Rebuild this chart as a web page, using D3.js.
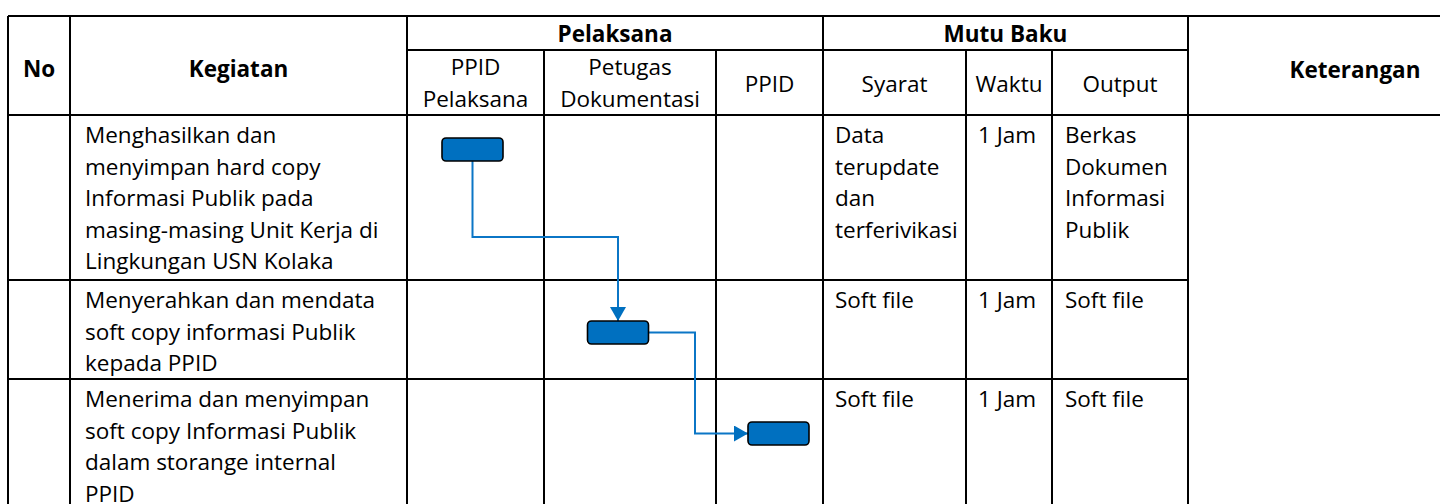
<!DOCTYPE html>
<html>
<head>
<meta charset="utf-8">
<script src="https://cdn.jsdelivr.net/npm/d3@7"></script>
<style>
  html, body { margin: 0; padding: 0; background: #fff; }
  svg { display: block; }
  text { font-family: "Open Sans", "Noto Sans", Lato, sans-serif; fill: #000; }
</style>
</head>
<body>
<svg id="chart" width="1440" height="504"></svg>
<script>
// ---------------- DATA ----------------
const groupHeaders = ["Pelaksana", "Mutu Baku"];
const mainHeaders = ["No", "Kegiatan", "Keterangan"];
const laneHeaders = [["PPID", "Pelaksana"], ["Petugas", "Dokumentasi"], ["PPID"]];
const standardHeaders = ["Syarat", "Waktu", "Output"];

const noValues = ["", "", ""];
const kegiatan = [
  ["Menghasilkan dan", "menyimpan hard copy", "Informasi Publik pada", "masing-masing Unit Kerja di", "Lingkungan USN Kolaka"],
  ["Menyerahkan dan mendata", "soft copy informasi Publik", "kepada PPID"],
  ["Menerima dan menyimpan", "soft copy Informasi Publik", "dalam storange internal", "PPID"]
];
const syarat = [["Data", "terupdate", "dan", "terferivikasi"], ["Soft file"], ["Soft file"]];
const waktu = [["1 Jam"], ["1 Jam"], ["1 Jam"]];
const output = [["Berkas", "Dokumen", "Informasi", "Publik"], ["Soft file"], ["Soft file"]];
// lane (executor) index for each activity step
const stepLane = [0, 1, 2];

// ---------------- LAYOUT ----------------
const W = 1440, H = 504;
const colEdges = [8, 70, 407, 544, 716, 823, 966, 1052, 1188, 1522];
const yTop = 16, yGroup = 50, yHead = 115;
const rowEdges = [115, 280, 379, 504];
const lineH = 31.6;
const firstBase = 28;
const boxW = 61, boxH = 23;
const boxOffset = [{dx: -3, top: 23}, {dx: -12, top: 41}, {dx: 9, top: 43}];
const elbow1Y = 237, elbow2X = 695;
const blue = "#0070C0", lineBlue = "#0B76C6";

const svg = d3.select("#chart");

// scales
const rowY = d3.scaleOrdinal().domain(d3.range(3)).range(rowEdges.slice(0, 3));
const laneX = d3.scaleOrdinal().domain(d3.range(3)).range([colEdges[2], colEdges[3], colEdges[4]]);
const laneW = i => colEdges[3 + i] - colEdges[2 + i];

// font size fitting (reference widest line spans ~299px)
const probe = svg.append("text").attr("font-size", 20).text("masing-masing Unit Kerja di");
const pw = probe.node().getComputedTextLength();
probe.remove();
const fs = Math.max(19, Math.min(22.5, 20 * 299 / pw));

// ---------------- GRID ----------------
const g = svg.append("g").attr("stroke", "#000").attr("stroke-width", 2).attr("shape-rendering", "crispEdges");
const hLines = [
  [yTop, colEdges[0], W], [yGroup, colEdges[2], colEdges[8]], [yHead, colEdges[0], W],
  [rowEdges[1], colEdges[0], colEdges[8]], [rowEdges[2], colEdges[0], colEdges[8]]
];
g.selectAll(".h").data(hLines).join("line")
  .attr("x1", d => d[1]).attr("x2", d => d[2]).attr("y1", d => d[0]).attr("y2", d => d[0]);
const vLines = [
  [colEdges[0], yTop], [colEdges[1], yTop], [colEdges[2], yTop], [colEdges[5], yTop], [colEdges[8], yTop],
  [colEdges[3], yGroup], [colEdges[4], yGroup], [colEdges[6], yGroup], [colEdges[7], yGroup]
];
g.selectAll(".v").data(vLines).join("line")
  .attr("x1", d => d[0]).attr("x2", d => d[0]).attr("y1", d => d[1]).attr("y2", H);

// ---------------- HEADERS ----------------
const mid = (a, b) => (a + b) / 2;
const hdr = svg.append("g").attr("font-size", fs).attr("text-anchor", "middle");
hdr.append("text").attr("font-weight", "bold").attr("x", mid(colEdges[0], colEdges[1])).attr("y", 77).text(mainHeaders[0]);
hdr.append("text").attr("font-weight", "bold").attr("x", mid(colEdges[1], colEdges[2])).attr("y", 77).text(mainHeaders[1]);
hdr.append("text").attr("font-weight", "bold").attr("x", mid(colEdges[8], colEdges[9])).attr("y", 78).text(mainHeaders[2]);
hdr.append("text").attr("font-weight", "bold").attr("x", mid(colEdges[2], colEdges[5])).attr("y", 42).text(groupHeaders[0]);
hdr.append("text").attr("font-weight", "bold").attr("x", mid(colEdges[5], colEdges[8])).attr("y", 42).text(groupHeaders[1]);
laneHeaders.forEach((lines, i) => {
  const cx = mid(colEdges[2 + i], colEdges[3 + i]);
  const y0 = lines.length === 1 ? 92 : 75;
  lines.forEach((t, k) => hdr.append("text").attr("x", cx).attr("y", y0 + k * lineH).text(t));
});
standardHeaders.forEach((t, i) => {
  hdr.append("text").attr("x", mid(colEdges[5 + i], colEdges[6 + i])).attr("y", 92).text(t);
});

// ---------------- BODY TEXT ----------------
const body = svg.append("g").attr("font-size", fs);
function cellText(col, padX, rows) {
  rows.forEach((lines, r) => {
    lines.forEach((t, k) => {
      body.append("text")
        .attr("x", colEdges[col] + padX)
        .attr("y", rowY(r) + firstBase + k * lineH)
        .text(t);
    });
  });
}
cellText(0, 14, noValues.map(v => v ? [v] : []));
cellText(1, 15, kegiatan);
cellText(5, 12, syarat);
cellText(6, 12, waktu);
cellText(7, 13, output);

// ---------------- FLOW ----------------
const defs = svg.append("defs");
defs.append("marker").attr("id", "arr").attr("markerUnits", "userSpaceOnUse")
  .attr("viewBox", "0 0 14 16").attr("refX", 14).attr("refY", 8)
  .attr("markerWidth", 14).attr("markerHeight", 16).attr("orient", "auto")
  .append("path").attr("d", "M0,0 L14,8 L0,16 Z").attr("fill", blue);

const boxes = stepLane.map((lane, i) => {
  const cx = laneX(lane) + laneW(lane) / 2 + boxOffset[i].dx;
  const y = rowY(i) + boxOffset[i].top;
  return {x: cx - boxW / 2, y, w: boxW, h: boxH, cx, cy: y + boxH / 2};
});

const b0 = boxes[0], b1 = boxes[1], b2 = boxes[2];
const paths = [
  d3.line()([[b0.cx, b0.y + b0.h], [b0.cx, elbow1Y], [b1.cx, elbow1Y], [b1.cx, b1.y]]),
  d3.line()([[b1.x + b1.w, b1.cy], [elbow2X, b1.cy], [elbow2X, b2.cy], [b2.x, b2.cy]])
];
svg.append("g").selectAll("path").data(paths).join("path")
  .attr("d", d => d).attr("fill", "none").attr("stroke", lineBlue).attr("stroke-width", 2)
  .attr("marker-end", "url(#arr)");

svg.append("g").selectAll("rect").data(boxes).join("rect")
  .attr("x", d => d.x).attr("y", d => d.y).attr("width", d => d.w).attr("height", d => d.h)
  .attr("rx", 4).attr("ry", 4).attr("fill", blue).attr("stroke", "#000").attr("stroke-width", 1.6);
</script>
</body>
</html>
